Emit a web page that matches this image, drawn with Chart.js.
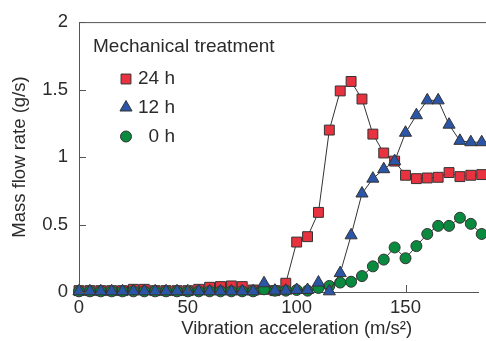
<!DOCTYPE html>
<html>
<head>
<meta charset="utf-8">
<script src="https://cdn.jsdelivr.net/npm/chart.js@4/dist/chart.umd.min.js"></script>
<style>
  html, body { margin: 0; padding: 0; overflow: hidden; background: #fff; }
</style>
</head>
<body>
<canvas id="flowChart" width="486" height="341"></canvas>
<script>
// vibration acceleration (m/s2)
const accel = [0, 5, 10, 15, 20, 25, 30, 35, 40, 45, 50, 55, 60, 65, 70, 75, 80, 85, 90, 95,
  100, 105, 110, 115, 120, 125, 130, 135, 140, 145, 150, 155, 160, 165, 170, 175, 180, 185];

// mass flow rate (g/s)
const flow24h = [0.01, 0.01, 0.01, 0.01, 0.01, 0.02, 0.02, 0.01, 0.01, 0.01, 0.01, 0.02, 0.035, 0.04, 0.045, 0.04, 0.015, 0.02, 0.01, 0.065,
  0.37, 0.41, 0.59, 1.20, 1.49, 1.56, 1.43, 1.17, 1.03, 0.97, 0.865, 0.84, 0.845, 0.85, 0.885, 0.855, 0.865, 0.87];
const flow12h = [0.005, 0.005, 0.005, 0.005, 0.005, 0.005, 0.005, 0.005, 0.005, 0.005, 0.005, 0.005, 0.005, 0.005, 0.005, 0.005, 0.005, 0.065, 0.01, 0.01,
  0.015, 0.015, 0.07, 0.005, 0.14, 0.42, 0.73, 0.84, 0.91, 0.97, 1.18, 1.31, 1.42, 1.42, 1.24, 1.12, 1.11, 1.11];
const flow0h = [0.005, 0.005, 0.005, 0.005, 0.005, 0.005, 0.005, 0.005, 0.005, 0.005, 0.005, 0.005, 0.005, 0.005, 0.005, 0.005, 0.005, 0.02, 0.01, 0.01,
  0.015, 0.01, 0.03, 0.045, 0.07, 0.076, 0.118, 0.19, 0.24, 0.33, 0.25, 0.34, 0.43, 0.49, 0.49, 0.55, 0.505, 0.43];

const seriesLabels = ["24 h", "12 h", "0 h"];
const legendTitle = "Mechanical treatment";
const xTitle = "Vibration acceleration (m/s²)";
const yTitle = "Mass flow rate (g/s)";
const xTicks = [0, 50, 100, 150];
const yTicks = [0, 0.5, 1, 1.5, 2];

// the original axis runs to 200 but the figure is cropped near 183
const X_MAX = 183.3;
const X_FULL = 200;

const FONT = "'Liberation Sans', Arial, Helvetica, sans-serif";
const TEXT = "#2b2b2b";
const AXIS = "#555";

function toPoints(ys) {
  return accel.map((x, i) => ({ x, y: ys[i] }));
}

// =========================
// Eixos, ticks internos e legenda
// =========================

const framePlugin = {
  id: "frame",
  afterDraw(chart) {
    const ctx = chart.ctx;
    const area = chart.chartArea;
    const xs = chart.scales.x;
    const ys = chart.scales.y;

    ctx.save();
    ctx.strokeStyle = AXIS;
    ctx.lineWidth = 1;

    // top border
    ctx.beginPath();
    ctx.moveTo(area.left, area.top + 0.5);
    ctx.lineTo(chart.width, area.top + 0.5);
    ctx.stroke();

    // inward ticks
    ctx.beginPath();
    xTicks.forEach((v) => {
      const px = Math.round(xs.getPixelForValue(v)) + 0.5;
      ctx.moveTo(px, area.bottom);
      ctx.lineTo(px, area.bottom - 7);
    });
    yTicks.forEach((v) => {
      const py = Math.round(ys.getPixelForValue(v)) + 0.5;
      ctx.moveTo(area.left, py);
      ctx.lineTo(area.left + 7, py);
    });
    ctx.stroke();

    // x title, centred on the full (uncropped) axis
    ctx.fillStyle = TEXT;
    ctx.font = "18.5px " + FONT;
    ctx.textAlign = "center";
    ctx.textBaseline = "middle";
    const cx = (xs.getPixelForValue(0) + xs.getPixelForValue(X_FULL)) / 2;
    ctx.fillText(xTitle, cx, 329);

    // legend
    ctx.font = "19px " + FONT;
    ctx.textAlign = "left";
    ctx.fillText(legendTitle, 93, 47);

    const rowY = [79, 107.5, 136.5];
    chart.data.datasets.forEach((ds, i) => {
      ctx.fillStyle = ds.backgroundColor;
      ctx.strokeStyle = ds.borderColor;
      ctx.lineWidth = 1;
      Chart.helpers.drawPoint(ctx, {
        pointStyle: ds.pointStyle,
        radius: ds.pointRadius,
        borderWidth: 1,
      }, 126, rowY[i]);
      ctx.fillStyle = TEXT;
      ctx.textAlign = "right";
      ctx.fillText(ds.label, 175, rowY[i]);
    });
    ctx.restore();
  },
};

new Chart(document.getElementById("flowChart"), {
  type: "line",
  data: {
    datasets: [
      {
        label: seriesLabels[0],
        data: toPoints(flow24h),
        pointStyle: "rect",
        pointRadius: 7,
        backgroundColor: "#e8323f",
        borderColor: "#333",
        order: 2,
      },
      {
        label: seriesLabels[1],
        data: toPoints(flow12h),
        pointStyle: "triangle",
        pointRadius: 7,
        backgroundColor: "#2b55a6",
        borderColor: "#333",
        order: 0,
      },
      {
        label: seriesLabels[2],
        data: toPoints(flow0h),
        pointStyle: "circle",
        pointRadius: 5.5,
        backgroundColor: "#0a8a3e",
        borderColor: "#333",
        order: 1,
      },
    ].map((ds) => ({
      ...ds,
      borderWidth: 1,
      pointBorderWidth: 1,
      pointBorderColor: "#333",
      pointBackgroundColor: ds.backgroundColor,
      tension: 0,
      fill: false,
      clip: false,
    })),
  },
  options: {
    responsive: false,
    animation: false,
    events: [],
    layout: { padding: { top: 20, right: 0, left: 0, bottom: 0 } },
    plugins: {
      legend: { display: false },
      tooltip: { enabled: false },
    },
    scales: {
      x: {
        type: "linear",
        min: 0,
        max: X_MAX,
        afterFit: (s) => { s.height = 49; },
        afterBuildTicks: (s) => { s.ticks = xTicks.map((v) => ({ value: v })); },
        grid: { display: true, drawOnChartArea: false, drawTicks: false },
        border: { display: true, color: AXIS, width: 1 },
        ticks: { color: TEXT, font: { family: FONT, size: 18.5 }, padding: 5, maxRotation: 0 },
        title: { display: false },
      },
      y: {
        min: 0,
        max: 2,
        afterFit: (s) => { s.width = 79; },
        afterBuildTicks: (s) => { s.ticks = yTicks.map((v) => ({ value: v })); },
        grid: { display: true, drawOnChartArea: false, drawTicks: false },
        border: { display: true, color: AXIS, width: 1 },
        ticks: {
          color: TEXT,
          font: { family: FONT, size: 18.5 },
          padding: 11,
          callback: (v) => String(v),
        },
        title: {
          display: true,
          text: yTitle,
          color: TEXT,
          font: { family: FONT, size: 18.5 },
          padding: { top: 9, bottom: 0 },
        },
      },
    },
  },
  plugins: [framePlugin],
});
</script>
</body>
</html>
